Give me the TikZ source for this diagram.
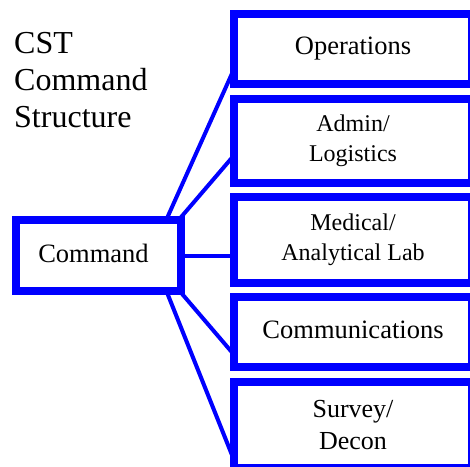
\documentclass[tikz,border=0pt]{standalone}
\usepackage{fontspec}
\setmainfont{Liberation Serif}
\usetikzlibrary{calc,backgrounds}
\begin{document}
\begin{tikzpicture}[x=1pt,y=-1pt,
  box/.style={draw=blue, line width=8pt, fill=white, inner sep=0pt, align=center},
  twoline/.style={font=\fontsize{24}{29.5}\selectfont},
  oneline/.style={font=\fontsize{26.5}{32}\selectfont},
  link/.style={draw=blue, line width=4pt},
]
\clip (0,0) rectangle (470,466);
\node[anchor=north west, align=left, inner sep=0pt, font=\fontsize{32}{37}\selectfont] (title) at (14,32) {CST\\Command\\Structure};
\node[box, oneline, minimum width=165pt, minimum height=71pt] (cmd) at (98.5,255.5) {\hspace*{-10pt}\raisebox{5pt}{Command}};
\node[box, oneline, minimum width=238pt, minimum height=70pt] (ops) at (353,49) {\raisebox{2pt}{Operations}};
\node[box, twoline, minimum width=238pt, minimum height=84pt] (adm) at (353,141) {Admin/\\Logistics};
\node[box, twoline, minimum width=238pt, minimum height=86pt] (med) at (353,240) {Medical/\\Analytical Lab};
\node[box, oneline, minimum width=238pt, minimum height=70pt] (com) at (353,332) {\raisebox{4pt}{Communications}};
\node[box, font=\fontsize{26}{32}\selectfont, minimum width=238pt, minimum height=86pt] (srv) at (353,425) {Survey/\\Decon};
\begin{scope}[on background layer]
\draw[link] ($(cmd.north east)+(-18.8,4)$) -- ($(ops.west)+(6,15.6)$);
\draw[link] ($(cmd.north east)+(-6.4,4)$) -- ($(adm.west)+(6,12)$);
\draw[link] ($(cmd.east)+(-4,0)$) -- ($(cmd.east -| med.west)+(6,0)$);
\draw[link] ($(cmd.south east)+(-5.4,-4)$) -- ($(com.west)+(6,25)$);
\draw[link] ($(cmd.south east)+(-18.6,-4)$) -- ($(srv.west)+(6,40)$);
\end{scope}
\end{tikzpicture}
\end{document}
